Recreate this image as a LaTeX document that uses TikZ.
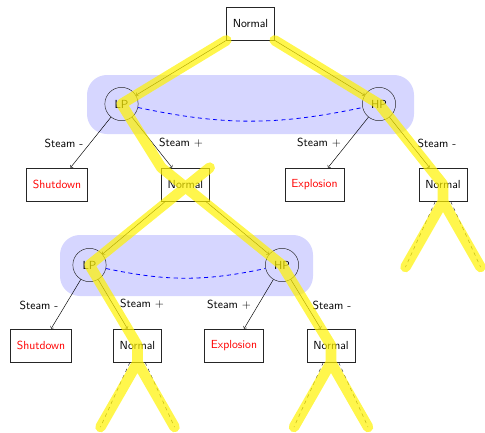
\documentclass[tikz,border=0pt]{standalone}
\renewcommand{\familydefault}{\sfdefault}
\begin{document}
\begin{tikzpicture}[x=0.855pt,y=-0.855pt,
  box/.style={draw=black!85, minimum height=1cm, inner xsep=5.3pt},
  state/.style={circle, draw=black!85, minimum size=1cm, inner sep=0pt},
  bad/.style={box, text=red},
  lbl/.style={inner sep=1pt},
  arr/.style={->, black},
  group/.style={fill=blue!16, rounded corners=17pt},
  link/.style={blue, dash pattern=on 3.5pt off 3pt, line width=0.7pt},
  lead/.style={dashed, black!80},
  hl/.style={yellow, opacity=0.7, line width=9pt, line cap=round, line join=round}]
\useasboundingbox (0,0) rectangle (485,432);

% shaded groups around the two pressure states of each level
\fill[group] (87,75) rectangle (414,134);
\fill[group] (60,235) rectangle (313,296);

% level 0
\node[box] (top) at (250.5,23.5) {Normal};

% level 1
\node[state] (lp1) at (121.5,104) {LP};
\node[state] (hp1) at (379,104) {HP};
\node[bad] (sd2) at (57,184.5) {Shutdown};
\node[box] (nb2) at (185.5,184.5) {Normal};
\node[bad] (ex2) at (314.5,184.5) {Explosion};
\node[box] (nd2) at (443,184.5) {Normal};

% level 2
\node[state] (lp2) at (89.5,265) {LP};
\node[state] (hp2) at (282,265) {HP};
\node[bad] (sd3) at (41,345.5) {Shutdown};
\node[box] (nb3) at (137.5,345.5) {Normal};
\node[bad] (ex3) at (234,345.5) {Explosion};
\node[box] (nd3) at (331,345.5) {Normal};

% edge labels
\node[lbl] (s1) at (64,143) {Steam -};
\node[lbl] (s2) at (181,143) {Steam +};
\node[lbl] (s3) at (319,143) {Steam +};
\node[lbl] (s4) at (437,143) {Steam -};
\node[lbl] (s5) at (39,305) {Steam -};
\node[lbl] (s6) at (142,304) {Steam +};
\node[lbl] (s7) at (229,305) {Steam +};
\node[lbl] (s8) at (332,305) {Steam -};

% open ends of the unexpanded branches
\coordinate (e1) at (405.5,267);
\coordinate (e2) at (480.5,267);
\coordinate (e3) at (100.5,427);
\coordinate (e4) at (174.5,427);
\coordinate (e5) at (294,427);
\coordinate (e6) at (368,427);

% uncertainty links between the pressure states
\draw[link] (lp1) to[bend right=12] (hp1);
\draw[link] (lp2) to[bend right=12] (hp2);

% transitions
\draw[arr] (top.south west) -- (lp1);
\draw[arr] (top.south east) -- (hp1);
\draw[arr] (lp1) -- (sd2);
\draw[arr] (lp1) -- (nb2);
\draw[arr] (hp1) -- (ex2);
\draw[arr] (hp1) -- (nd2);
\draw[arr] (nb2) -- (lp2);
\draw[arr] (nb2) -- (hp2);
\draw[arr] (lp2) -- (sd3);
\draw[arr] (lp2) -- (nb3);
\draw[arr] (hp2) -- (ex3);
\draw[arr] (hp2) -- (nd3);
\draw[lead] (nd2) -- (e1);
\draw[lead] (nd2) -- (e2);
\draw[lead] (nb3) -- (e3);
\draw[lead] (nb3) -- (e4);
\draw[lead] (nd3) -- (e5);
\draw[lead] (nd3) -- (e6);

% highlighted safe paths
\draw[hl]
  (top.south west) -- (lp1.center) -- (nb2.north west) -- (hp2.center)
    -- (nd3.center) -- (nd3.south) -- (e5)
  (nd3.south) -- (e6)
  (nb2.north east) -- (lp2.center) -- (nb3.center) -- (nb3.south) -- (e3)
  (nb3.south) -- (e4)
  (top.south east) -- (hp1.center) -- (nd2.center) -- (nd2.south) -- (e1)
  (nd2.south) -- (e2);
\end{tikzpicture}
\end{document}
